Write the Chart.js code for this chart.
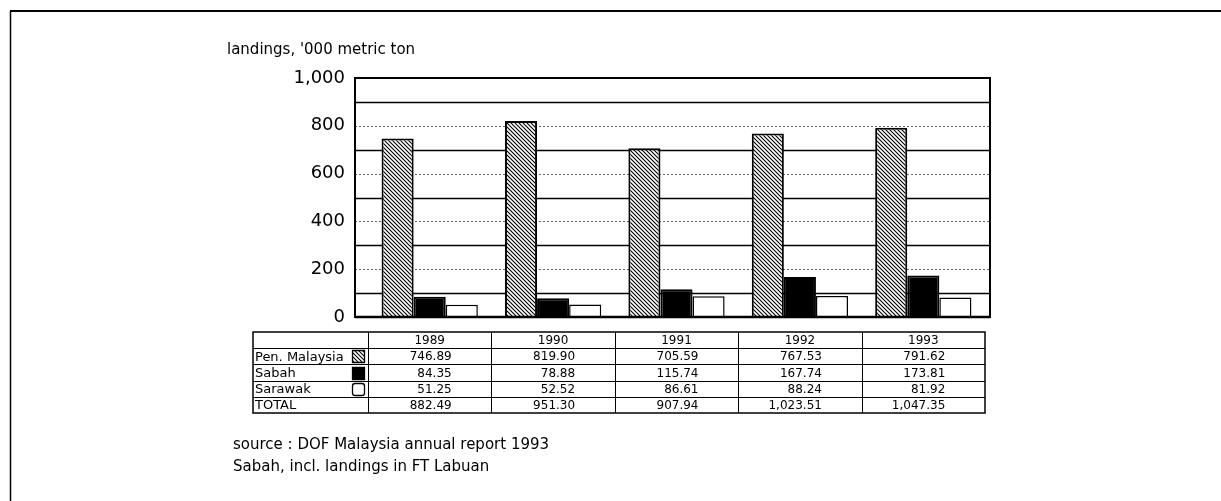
<!DOCTYPE html>
<html>
<head>
<meta charset="utf-8">
<script src="https://cdn.jsdelivr.net/npm/chart.js@4"></script>
<style>
  html, body { margin: 0; padding: 0; background: #fff; }
  canvas { display: block; }
</style>
</head>
<body>
<canvas id="landingsChart" width="1221" height="501"></canvas>
<script>
const years = ['1989', '1990', '1991', '1992', '1993'];
const penMalaysia = [746.89, 819.90, 705.59, 767.53, 791.62];
const sabah = [84.35, 78.88, 115.74, 167.74, 173.81];
const sarawak = [51.25, 52.52, 86.61, 88.24, 81.92];
const totals = [882.49, 951.30, 907.94, 1023.51, 1047.35];
const seriesNames = ['Pen. Malaysia', 'Sabah', 'Sarawak'];
const totalLabel = 'TOTAL';
const yTitle = "landings, '000 metric ton";
const notes = ['source : DOF Malaysia annual report 1993', 'Sabah, incl. landings in FT Labuan'];

const FONT = '"DejaVu Sans", sans-serif';

// hachures pour Pen. Malaysia
function makeHatch() {
    const c = document.createElement('canvas');
    c.width = 4; c.height = 4;
    const g = c.getContext('2d');
    g.fillStyle = '#fff';
    g.fillRect(0, 0, 4, 4);
    g.strokeStyle = '#000';
    g.lineWidth = 1.1;
    g.beginPath();
    g.moveTo(0, 0); g.lineTo(4, 4);
    g.moveTo(-1, 3); g.lineTo(1, 5);
    g.moveTo(3, -1); g.lineTo(5, 1);
    g.stroke();
    return g.createPattern(c, 'repeat');
}
const hatch = makeHatch();
const fills = [hatch, '#000', '#fff'];

const fmt = v => v.toLocaleString('en-US', { minimumFractionDigits: 2, maximumFractionDigits: 2 });

const framePlugin = {
    id: 'framePlugin',
    beforeDatasetsDraw(chart) {
        const { ctx, chartArea, scales: { y } } = chart;
        const left = chartArea.left - 13, right = chartArea.right + 5;
        ctx.save();
        y.ticks.forEach(t => {
            if (t.value === 0 || t.value === 1000) return;
            const py = Math.round(y.getPixelForValue(t.value)) + 0.5;
            ctx.beginPath();
            if (t.value % 200 === 0) {
                ctx.setLineDash([2, 2]);
                ctx.strokeStyle = '#666';
                ctx.lineWidth = 1;
            } else {
                ctx.setLineDash([]);
                ctx.strokeStyle = '#000';
                ctx.lineWidth = 1.5;
            }
            ctx.moveTo(left, py);
            ctx.lineTo(right, py);
            ctx.stroke();
        });
        ctx.setLineDash([]);
        ctx.strokeStyle = '#000';
        ctx.lineWidth = 2;
        const top = y.getPixelForValue(1000), bottom = y.getPixelForValue(0);
        ctx.strokeRect(left, top, right - left, bottom - top);
        ctx.restore();
    },
    afterDraw(chart) {
        const { ctx, chartArea, scales: { x, y } } = chart;
        ctx.save();
        ctx.strokeStyle = '#000';
        ctx.fillStyle = '#000';

        // ligne du bas plus épaisse
        const bottom = y.getPixelForValue(0);
        ctx.lineWidth = 2.5;
        ctx.beginPath();
        ctx.moveTo(chartArea.left - 13, bottom);
        ctx.lineTo(chartArea.right + 5, bottom);
        ctx.stroke();

        // cadre extérieur
        ctx.lineWidth = 2;
        ctx.beginPath();
        ctx.moveTo(10, 11); ctx.lineTo(1221, 11);
        ctx.stroke();
        ctx.lineWidth = 1.5;
        ctx.beginPath();
        ctx.moveTo(10.5, 11); ctx.lineTo(10.5, 501);
        ctx.stroke();

        // titre de l'axe
        ctx.font = '15px ' + FONT;
        ctx.textAlign = 'left';
        ctx.textBaseline = 'alphabetic';
        ctx.fillText(yTitle, 227, 54);

        // tableau de données
        const half = (x.getPixelForValue(1) - x.getPixelForValue(0)) / 2;
        const tableLeft = 253, firstCol = x.getPixelForValue(0) - half;
        const tableRight = x.getPixelForValue(years.length - 1) + half;
        const rowTop = 332, rowH = 16.2, nRows = 5;
        const tableBottom = rowTop + rowH * nRows;

        ctx.lineWidth = 1;
        for (let r = 1; r < nRows; r++) {
            const ry = Math.round(rowTop + r * rowH) + 0.5;
            ctx.beginPath();
            ctx.moveTo(tableLeft, ry);
            ctx.lineTo(tableRight, ry);
            ctx.stroke();
        }
        years.forEach((_, i) => {
            const cx = Math.round(x.getPixelForValue(i) - half) + 0.5;
            ctx.beginPath();
            ctx.moveTo(cx, rowTop);
            ctx.lineTo(cx, tableBottom);
            ctx.stroke();
        });
        ctx.lineWidth = 1.5;
        ctx.strokeRect(tableLeft, rowTop, tableRight - tableLeft, tableBottom - rowTop);

        ctx.textBaseline = 'middle';
        const rowMid = r => rowTop + rowH * r + rowH / 2 + 1;

        ctx.font = '12px ' + FONT;
        ctx.textAlign = 'center';
        years.forEach((yr, i) => ctx.fillText(yr, x.getPixelForValue(i), rowMid(0)));

        const rows = [penMalaysia, sabah, sarawak, totals];
        const labels = [...seriesNames, totalLabel];
        rows.forEach((vals, r) => {
            ctx.font = '13px ' + FONT;
            ctx.textAlign = 'left';
            ctx.fillText(labels[r], tableLeft + 2, rowMid(r + 1));
            ctx.font = '12px ' + FONT;
            ctx.textAlign = 'right';
            vals.forEach((v, i) => ctx.fillText(fmt(v), x.getPixelForValue(i) + 22, rowMid(r + 1)));
        });

        // petites cases de légende
        for (let r = 0; r < 3; r++) {
            const sx = firstCol - 16, sy = Math.round(rowMid(r + 1) - 7);
            ctx.fillStyle = fills[r];
            ctx.lineWidth = 1.3;
            ctx.beginPath();
            if (r === 2) ctx.roundRect(sx + 0.5, sy + 0.5, 12, 12, 2.5);
            else ctx.rect(sx + 0.5, sy + 0.5, 12, 12);
            ctx.fill();
            ctx.stroke();
        }

        // notes
        ctx.fillStyle = '#000';
        ctx.font = '15px ' + FONT;
        ctx.textAlign = 'left';
        ctx.textBaseline = 'middle';
        ctx.fillText(notes[0], 233, 445);
        ctx.fillText(notes[1], 233, 467);
        ctx.restore();
    }
};

const ctx = document.getElementById('landingsChart').getContext('2d');
new Chart(ctx, {
    type: 'bar',
    data: {
        labels: years,
        datasets: [
            { label: seriesNames[0], data: penMalaysia, backgroundColor: hatch, borderColor: '#000', borderWidth: 2 },
            { label: seriesNames[1], data: sabah, backgroundColor: '#000', borderColor: '#000', borderWidth: 2 },
            { label: seriesNames[2], data: sarawak, backgroundColor: '#fff', borderColor: '#000', borderWidth: 1.5 }
        ]
    },
    options: {
        responsive: false,
        animation: false,
        layout: { padding: { left: 0, top: 78, right: 236, bottom: 184 } },
        datasets: { bar: { categoryPercentage: 0.78, barPercentage: 1.0 } },
        scales: {
            x: { display: false },
            y: {
                min: 0,
                max: 1000,
                afterFit: scale => { scale.width = 368; },
                ticks: {
                    stepSize: 100,
                    autoSkip: false,
                    padding: 23,
                    color: '#000',
                    font: { family: FONT, size: 18 },
                    callback: v => (v % 200 === 0 ? v.toLocaleString('en-US') : '')
                },
                grid: { display: false, drawTicks: false },
                border: { display: false }
            }
        },
        plugins: {
            legend: { display: false },
            tooltip: { enabled: false }
        }
    },
    plugins: [framePlugin]
});
</script>
</body>
</html>
